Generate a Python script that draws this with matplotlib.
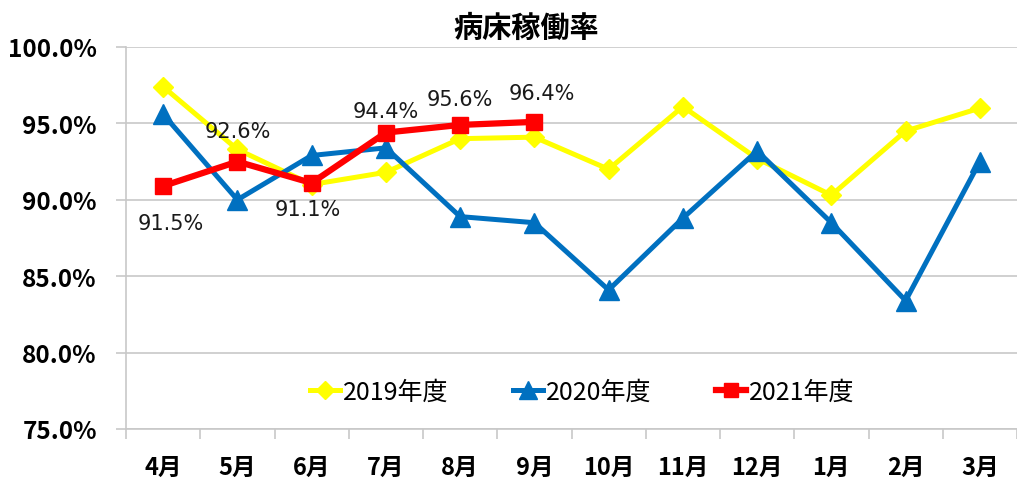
import matplotlib.pyplot as plt
from matplotlib.ticker import FuncFormatter, FixedLocator

plt.rcParams['font.family'] = ['Noto Sans CJK JP', 'DejaVu Sans']

months = ['4月', '5月', '6月', '7月', '8月', '9月', '10月', '11月', '12月', '1月', '2月', '3月']
rate_2019 = [97.4, 93.3, 91.0, 91.8, 94.0, 94.1, 92.0, 96.1, 92.7, 90.3, 94.5, 96.0]
rate_2020 = [95.6, 90.0, 92.9, 93.4, 88.9, 88.5, 84.1, 88.8, 93.2, 88.5, 83.4, 92.5]
rate_2021 = [90.9, 92.5, 91.1, 94.4, 94.9, 95.1]
labels_2021 = ['91.5%', '92.6%', '91.1%', '94.4%', '95.6%', '96.4%']
# label offsets (x in categories, y in %) as they sit in the original
label_off = [(0.1, -2.4), (0.0, 2.0), (-0.05, -1.7), (0.0, 1.4), (0.0, 1.7), (0.1, 1.9)]

fig = plt.figure(figsize=(10.17, 4.81), dpi=100)
ax = fig.add_axes([126 / 1017, 51 / 481, 891 / 1017, 382 / 481])

x = list(range(len(months)))
ax.plot(x, rate_2019, color='#FFFF00', lw=3.6, marker='D', ms=10,
        label='2019年度', zorder=3)
ax.plot(x, rate_2020, color='#0070C0', lw=3.6, marker='^', ms=15,
        label='2020年度', zorder=4)
ax.plot(x[:len(rate_2021)], rate_2021, color='#FF0000', lw=4.5, marker='s', ms=11,
        label='2021年度', zorder=5)

for i, (lab, (dx, dy)) in enumerate(zip(labels_2021, label_off)):
    ax.text(i + dx, rate_2021[i] + dy, lab, ha='center', va='center',
            fontsize=15, family=['Liberation Sans Narrow', 'DejaVu Sans'], color='#1a1a1a')

ax.set_ylim(75, 100)
ax.set_xlim(-0.5, 11.43)
ax.yaxis.set_major_locator(FixedLocator([75, 80, 85, 90, 95, 100]))
ax.yaxis.set_major_formatter(FuncFormatter(lambda v, p: f'{v:.1f}%'))
ax.grid(axis='y', color='#c8c8c8', lw=1.2)
ax.set_axisbelow(True)

ax.set_xticks(x)
ax.set_xticklabels(months)
ax.set_xticks([i - 0.5 for i in range(13)], minor=True)
ax.tick_params(axis='x', which='major', length=0, pad=19, labelsize=17)
ax.tick_params(axis='x', which='minor', length=7, color='#c8c8c8', width=1.2)
ax.tick_params(axis='y', length=7, color='#c8c8c8', width=1.2, pad=14, labelsize=17.5)
for lab in ax.get_yticklabels():
    lab.set_fontweight('bold')
for lab in ax.get_xticklabels():
    lab.set_fontweight('bold')

for s in ['top', 'right']:
    ax.spines[s].set_visible(False)
ax.spines['left'].set_color('#c8c8c8')
ax.spines['bottom'].set_color('#c8c8c8')
ax.spines['left'].set_linewidth(1.2)
ax.spines['bottom'].set_linewidth(1.2)

leg = ax.legend(loc='center', ncol=3, frameon=False,
                fontsize=18, handlelength=1.2, handletextpad=0.1, columnspacing=2.6,
                markerscale=0.9)
leg.set_bbox_to_anchor((582 / 1017, 1 - 393 / 481), transform=fig.transFigure)

fig.text(526 / 1017, 1 - 28 / 481, '病床稼働率', ha='center', va='center',
         fontsize=21, fontweight='bold')

fig.savefig('out.png', dpi=100)
